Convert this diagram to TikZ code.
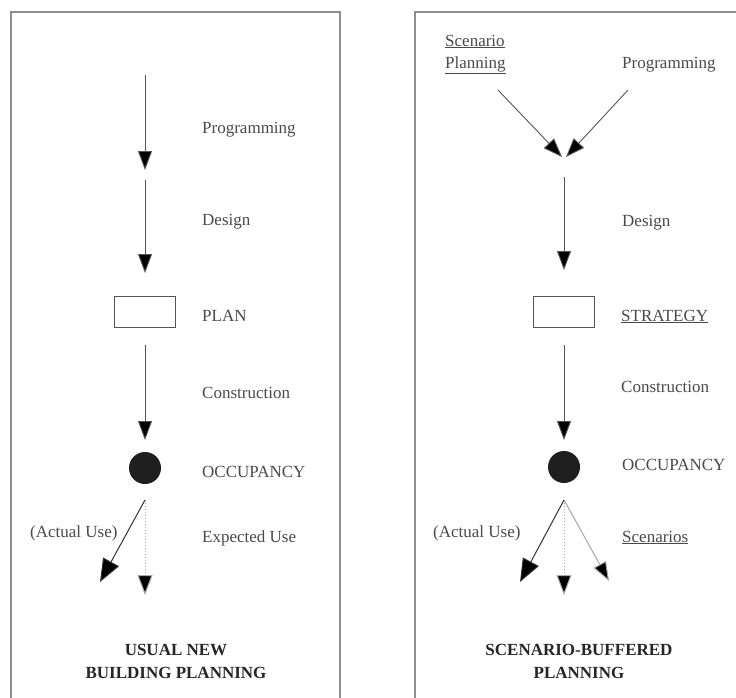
\documentclass[tikz,border=0pt]{standalone}
\usepackage{fontspec}
\setmainfont{Liberation Serif}
\usetikzlibrary{arrows.meta}
\definecolor{framegray}{HTML}{8E8E8E}
\definecolor{textgray}{HTML}{4A4A4A}
\definecolor{linegray}{HTML}{555555}
\definecolor{lightgray}{HTML}{A8A8A8}
\tikzset{
  frame/.style={draw=framegray, line width=1.8pt},
  lbl/.style={anchor=base west, inner sep=0pt, text=textgray, font=\fontsize{17}{20}\selectfont},
  title/.style={align=center, inner sep=0pt, text=black!85, font=\fontsize{17}{23}\selectfont\bfseries},
  flow/.style={draw=linegray, line width=0.9pt, -{Triangle[length=19pt,width=14pt,fill=black]}},
  solidarr/.style={draw=black!80, line width=1pt, -{Triangle[length=23pt,width=18pt,fill=black]}},
  dotarr/.style={draw=lightgray, line width=1pt, dotted, -{Triangle[length=20pt,width=15pt,fill=black]}},
  greyarr/.style={draw=lightgray, line width=1pt, -{Triangle[length=19pt,width=14pt,fill=black]}},
  planbox/.style={draw=linegray, line width=0.9pt, minimum width=61pt, minimum height=31pt, inner sep=0pt},
  occdot/.style={circle, fill=black!88, minimum size=32pt, inner sep=0pt},
}
\newcommand{\ulined}[1]{\underline{#1}}
\begin{document}
\begin{tikzpicture}[x=1pt,y=-1pt]
\useasboundingbox (0,0) rectangle (736,697);
\fill[white] (0,0) rectangle (736,697);

% ---------- frames ----------
\draw[frame] (11,700) -- (11,12) -- (340,12) -- (340,700);
\draw[frame] (415,700) -- (415,12) -- (740,12);

% ================= usual new building planning =================
\coordinate (a1s) at (145,75);
\coordinate (a1e) at (145,170);
\coordinate (a2s) at (145,180);
\coordinate (a2e) at (145,273);
\node[planbox] (plan) at (145,311.5) {};
\coordinate (a3s) at (145,345);
\coordinate (a3e) at (145,440);
\node[occdot] (occ) at (145,468) {};
\coordinate (u0) at (145,500);
\coordinate (uact) at (100,582);
\coordinate (uexp) at (145,595);

\draw[flow] (a1s) -- (a1e);
\draw[flow] (a2s) -- (a2e);
\draw[flow] (a3s) -- (a3e);
\draw[dotarr] (u0) -- (uexp);
\draw[solidarr] (u0) -- (uact);

\node[lbl] (lprog) at (202,133) {Programming};
\node[lbl] (ldes) at (202,225) {Design};
\node[lbl] (lplan) at (202,321) {PLAN};
\node[lbl] (lcon) at (202,398) {Construction};
\node[lbl] (locc) at (202,477) {OCCUPANCY};
\node[lbl] (lact) at (30,537) {(Actual Use)};
\node[lbl] (lexp) at (202,542) {Expected Use};
\node[title] (ltitle) at (176,661) {USUAL NEW\\BUILDING PLANNING};

% ================= scenario-buffered planning =================
\coordinate (sp) at (498,90);
\coordinate (pg) at (628,90);
\coordinate (meet1) at (562,157);
\coordinate (meet2) at (566,157);
\coordinate (b2s) at (564,177);
\coordinate (b2e) at (564,270);
\node[planbox] (strat) at (564,311.5) {};
\coordinate (b3s) at (564,345);
\coordinate (b3e) at (564,440);
\node[occdot] (occ2) at (564,467) {};
\coordinate (v0) at (564,500);
\coordinate (vact) at (520,582);
\coordinate (vmid) at (564,595);
\coordinate (vright) at (609,581);

\draw[flow] (sp) -- (meet1);
\draw[flow] (pg) -- (meet2);
\draw[flow] (b2s) -- (b2e);
\draw[flow] (b3s) -- (b3e);
\draw[dotarr] (v0) -- (vmid);
\draw[greyarr] (v0) -- (vright);
\draw[solidarr] (v0) -- (vact);

\node[lbl] (rscen) at (445,46) {\ulined{Scenario}};
\node[lbl] (rplan) at (445,68) {\ulined{Planning}};
\node[lbl] (rprog) at (622,68) {Programming};
\node[lbl] (rdes) at (622,226) {Design};
\node[lbl] (rstrat) at (621,321) {\ulined{STRATEGY}};
\node[lbl] (rcon) at (621,392) {Construction};
\node[lbl] (rocc) at (622,470) {OCCUPANCY};
\node[lbl] (ract) at (433,537) {(Actual Use)};
\node[lbl] (rscn) at (622,542) {\ulined{Scenarios}};
\node[title] (rtitle) at (579,661) {SCENARIO-BUFFERED\\PLANNING};
\end{tikzpicture}
\end{document}
